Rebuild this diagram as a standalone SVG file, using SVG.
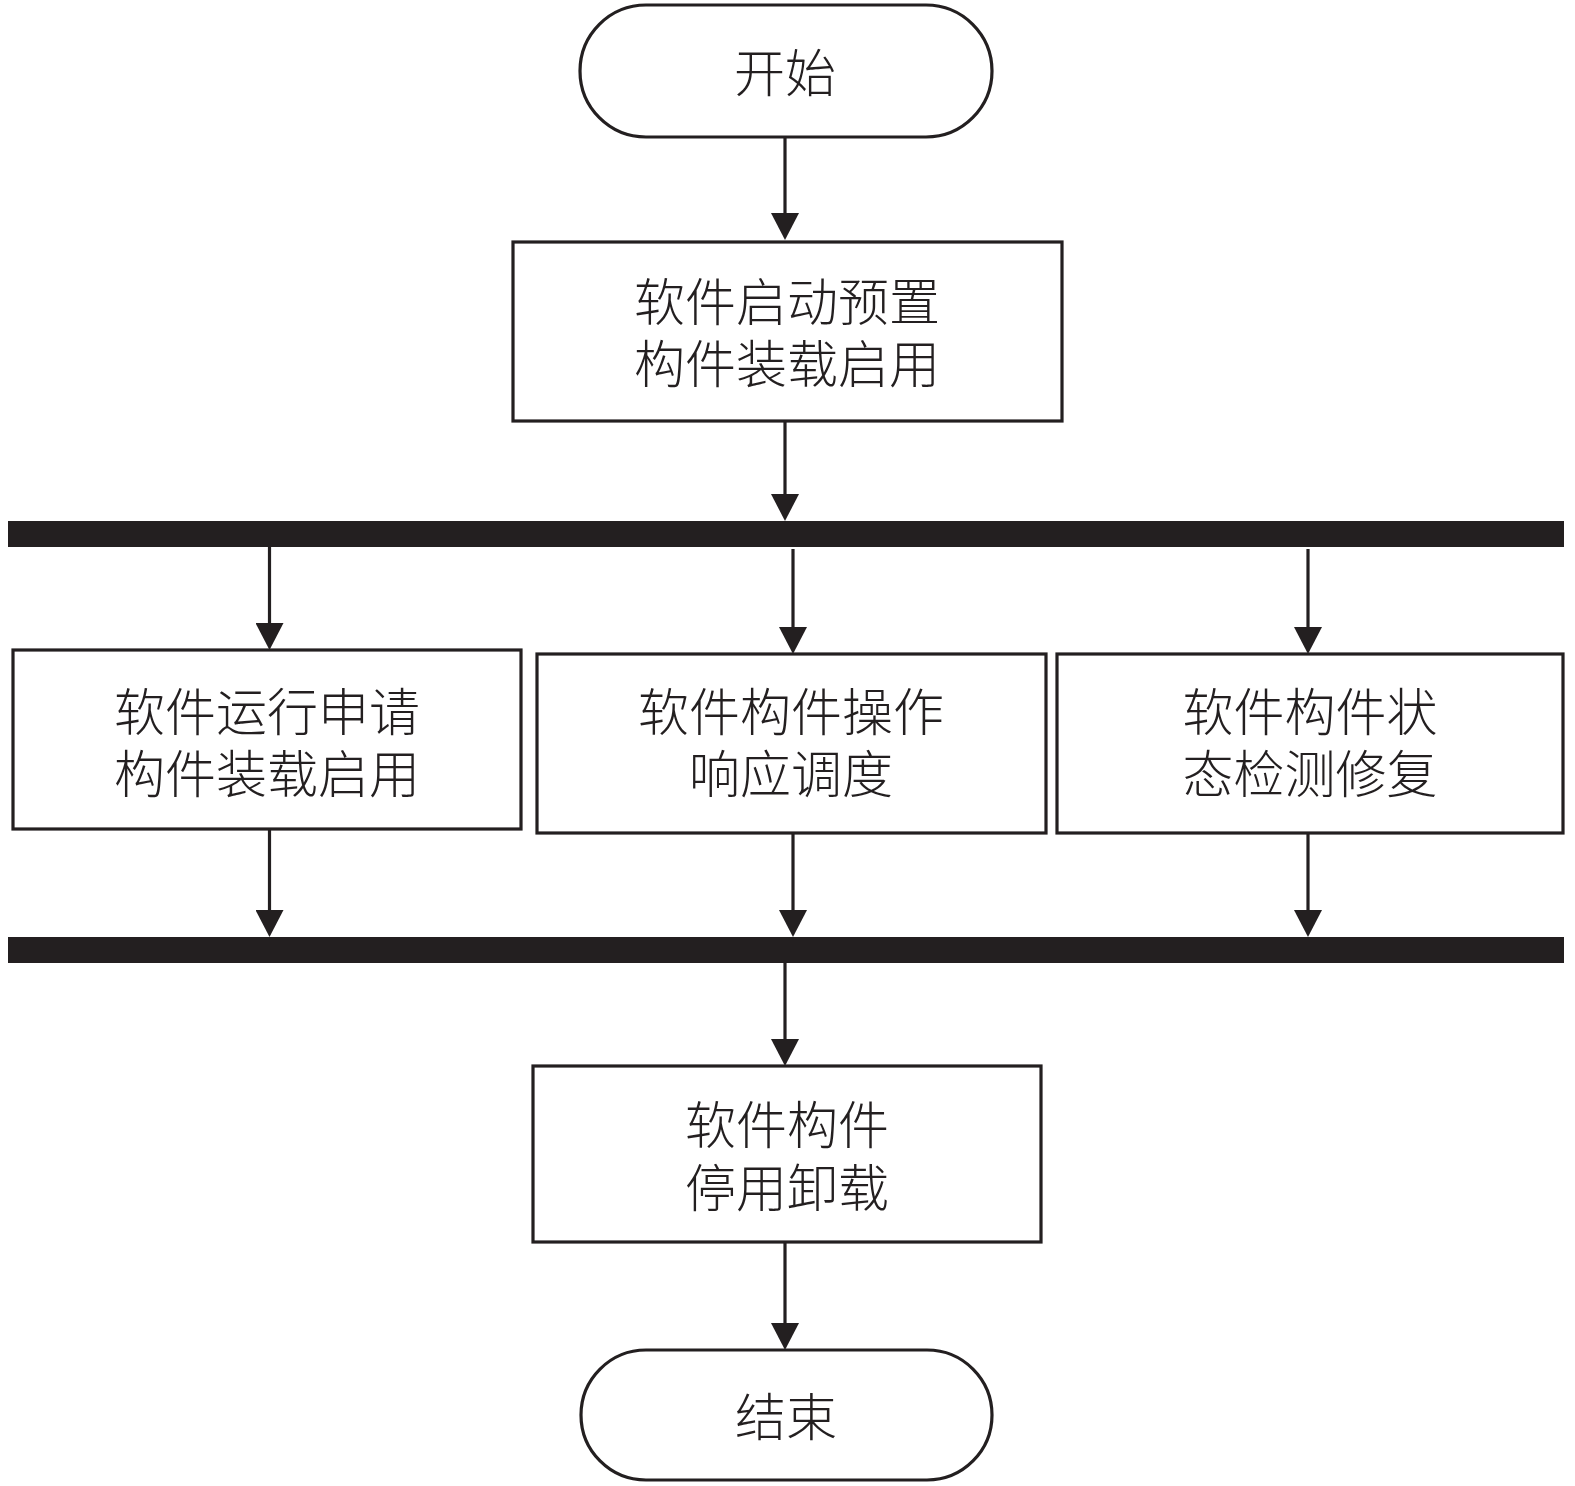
<svg xmlns="http://www.w3.org/2000/svg" width="1575" height="1486" viewBox="0 0 1575 1486">
<style>
.shape{fill:#ffffff;stroke:#231f20;stroke-width:3.2}
.bar{fill:#231f20}
.lbl{font-family:"Noto Sans CJK SC","Noto Sans CJK JP",sans-serif;font-size:51px;font-weight:300;fill:#231f20;text-anchor:middle;dominant-baseline:central}
.conn{stroke:#231f20;stroke-width:3.2;fill:none;marker-end:url(#arr)}
</style>
<defs>
<marker id="arr" viewBox="0 0 27 28" refX="17" refY="14" markerWidth="27" markerHeight="28" markerUnits="userSpaceOnUse" orient="auto">
<path d="M0,0 L27,14 L0,28 Z" fill="#231f20"/>
</marker>
</defs>
<rect width="1575" height="1486" fill="#ffffff"/>
<g id="connectors">
<line class="conn" x1="785" y1="137" x2="785" y2="230"/>
<line class="conn" x1="785" y1="421" x2="785" y2="511"/>
<line class="conn" x1="269.5" y1="547" x2="269.5" y2="640"/>
<line class="conn" x1="793" y1="549" x2="793" y2="644"/>
<line class="conn" x1="1308" y1="549" x2="1308" y2="644"/>
<line class="conn" x1="269.5" y1="829" x2="269.5" y2="927"/>
<line class="conn" x1="793" y1="833" x2="793" y2="927"/>
<line class="conn" x1="1308" y1="833" x2="1308" y2="927"/>
<line class="conn" x1="785" y1="963" x2="785" y2="1056"/>
<line class="conn" x1="785" y1="1242" x2="785" y2="1340"/>
</g>
<g id="start">
<rect class="shape" x="580" y="5" width="412" height="132" rx="66" ry="66"/>
<text class="lbl" x="785" y="70">开始</text>
</g>
<g id="preset">
<rect class="shape" x="513" y="242" width="549" height="179"/>
<text class="lbl"><tspan x="787" y="299">软件启动预置</tspan><tspan x="787" y="361">构件装载启用</tspan></text>
</g>
<g id="fork">
<rect class="bar" x="8" y="521" width="1556" height="26"/>
</g>
<g id="runtime-load">
<rect class="shape" x="13" y="650" width="508" height="179"/>
<text class="lbl"><tspan x="267" y="709">软件运行申请</tspan><tspan x="267" y="771">构件装载启用</tspan></text>
</g>
<g id="operation">
<rect class="shape" x="537" y="654" width="509" height="179"/>
<text class="lbl"><tspan x="791" y="709">软件构件操作</tspan><tspan x="791" y="771">响应调度</tspan></text>
</g>
<g id="monitor">
<rect class="shape" x="1057" y="654" width="506" height="179"/>
<text class="lbl"><tspan x="1310" y="709">软件构件状</tspan><tspan x="1310" y="771">态检测修复</tspan></text>
</g>
<g id="join">
<rect class="bar" x="8" y="937" width="1556" height="26"/>
</g>
<g id="unload">
<rect class="shape" x="533" y="1066" width="508" height="176"/>
<text class="lbl"><tspan x="787" y="1122">软件构件</tspan><tspan x="787" y="1185">停用卸载</tspan></text>
</g>
<g id="end">
<rect class="shape" x="581" y="1350" width="411" height="130" rx="65" ry="65"/>
<text class="lbl" x="786" y="1414">结束</text>
</g>
</svg>
